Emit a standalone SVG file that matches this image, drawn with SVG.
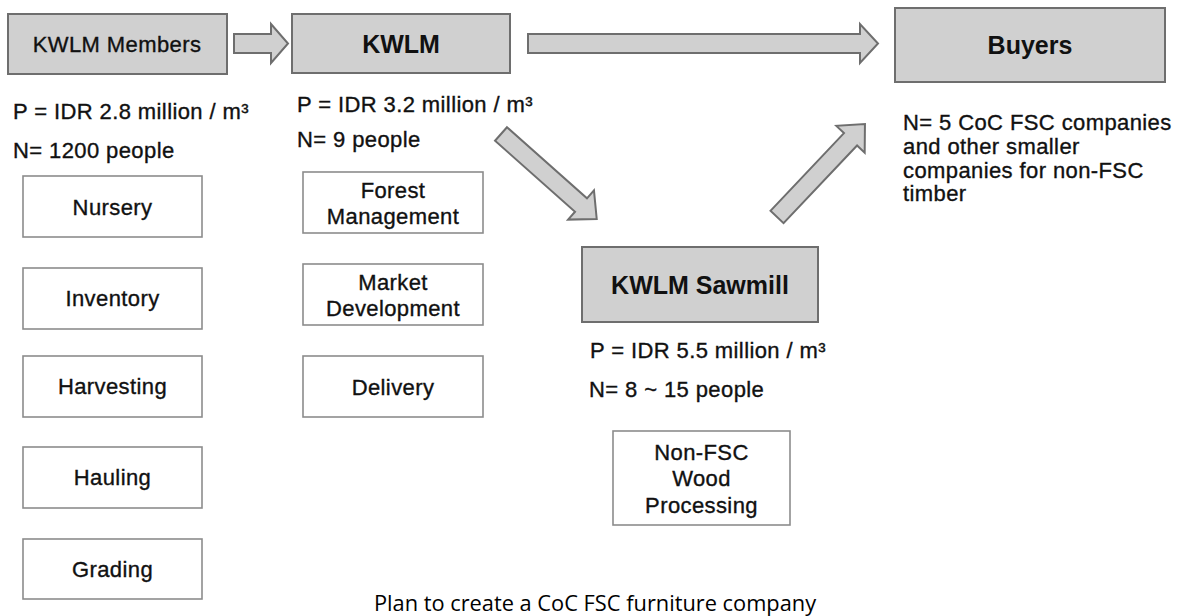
<svg xmlns="http://www.w3.org/2000/svg" width="1187" height="616" viewBox="0 0 1187 616">
<style>
.hdr{fill:#d0d0d0;stroke:#6e6e6e;stroke-width:2}
.box{fill:#ffffff;stroke:#8c8c8c;stroke-width:1.6}
.arr{fill:#d0d0d0;stroke:#6e6e6e;stroke-width:2;stroke-linejoin:miter}
text{font-family:"Liberation Sans",Arial,sans-serif;fill:#111}
.t{font-size:22px;letter-spacing:0.4px;stroke:#111;stroke-width:0.35}
.b{font-size:25px;font-weight:bold}
.c{text-anchor:middle}
.cap{font-family:"Open Sans","Noto Sans",sans-serif;font-size:21.8px;text-anchor:middle;fill:#000}
</style>
<rect width="1187" height="616" fill="#ffffff"/>
<g id="connectors">
<path class="arr" d="M234,34 L271,34 L271,24 L288,43.5 L271,63 L271,53 L234,53 Z"/>
<path class="arr" d="M528,34 L860,34 L860,24 L878,43.5 L860,63 L860,53 L528,53 Z"/>
<path class="arr" transform="translate(501,134) rotate(41.6)" d="M0,-9 L107,-9 L107,-19.5 L128,0 L107,19.5 L107,9 L0,9 Z"/>
<path class="arr" transform="translate(777,217) rotate(-46.6)" d="M0,-9 L107,-9 L107,-19.5 L128,0 L107,19.5 L107,9 L0,9 Z"/>
</g>
<g id="kwlm-members">
<rect class="hdr" x="8" y="14" width="219" height="60"/>
<text class="t c" x="117" y="52">KWLM Members</text>
<text class="t" x="13" y="119">P = IDR 2.8 million / m³</text>
<text class="t" x="13" y="158">N= 1200 people</text>
</g>
<g id="nursery"><rect class="box" x="23" y="176" width="179" height="61"/><text class="t c" x="112.5" y="215">Nursery</text></g>
<g id="inventory"><rect class="box" x="23" y="268" width="179" height="61"/><text class="t c" x="112.5" y="306">Inventory</text></g>
<g id="harvesting"><rect class="box" x="23" y="356" width="179" height="61"/><text class="t c" x="112.5" y="394">Harvesting</text></g>
<g id="hauling"><rect class="box" x="23" y="447" width="179" height="61"/><text class="t c" x="112.5" y="485">Hauling</text></g>
<g id="grading"><rect class="box" x="23" y="539" width="179" height="60"/><text class="t c" x="112.5" y="577">Grading</text></g>
<g id="kwlm">
<rect class="hdr" x="292" y="14" width="218" height="59"/>
<text class="b c" x="401" y="53">KWLM</text>
<text class="t" x="297" y="112">P = IDR 3.2 million / m³</text>
<text class="t" x="297" y="147">N= 9 people</text>
</g>
<g id="forest-management"><rect class="box" x="303" y="172" width="180" height="61"/><text class="t c" x="393" y="198">Forest</text><text class="t c" x="393" y="224">Management</text></g>
<g id="market-development"><rect class="box" x="303" y="264" width="180" height="61"/><text class="t c" x="393" y="290">Market</text><text class="t c" x="393" y="316">Development</text></g>
<g id="delivery"><rect class="box" x="303" y="356" width="180" height="61"/><text class="t c" x="393" y="395">Delivery</text></g>
<g id="buyers">
<rect class="hdr" x="895" y="8" width="270" height="74"/>
<text class="b c" x="1030" y="54">Buyers</text>
<text class="t" x="903" y="130">N= 5 CoC FSC companies</text>
<text class="t" x="903" y="154">and other smaller</text>
<text class="t" x="903" y="178">companies for non-FSC</text>
<text class="t" x="903" y="201">timber</text>
</g>
<g id="kwlm-sawmill">
<rect class="hdr" x="582" y="247" width="236" height="75"/>
<text class="b c" x="700" y="294">KWLM Sawmill</text>
<text class="t" x="590" y="358">P = IDR 5.5 million / m³</text>
<text class="t" x="589" y="397">N= 8 ~ 15 people</text>
</g>
<g id="non-fsc-processing"><rect class="box" x="613" y="431" width="177" height="94"/><text class="t c" x="701.5" y="460">Non-FSC</text><text class="t c" x="701.5" y="486">Wood</text><text class="t c" x="701.5" y="513">Processing</text></g>
<text class="cap" x="595" y="611">Plan to create a CoC FSC furniture company</text>
</svg>
